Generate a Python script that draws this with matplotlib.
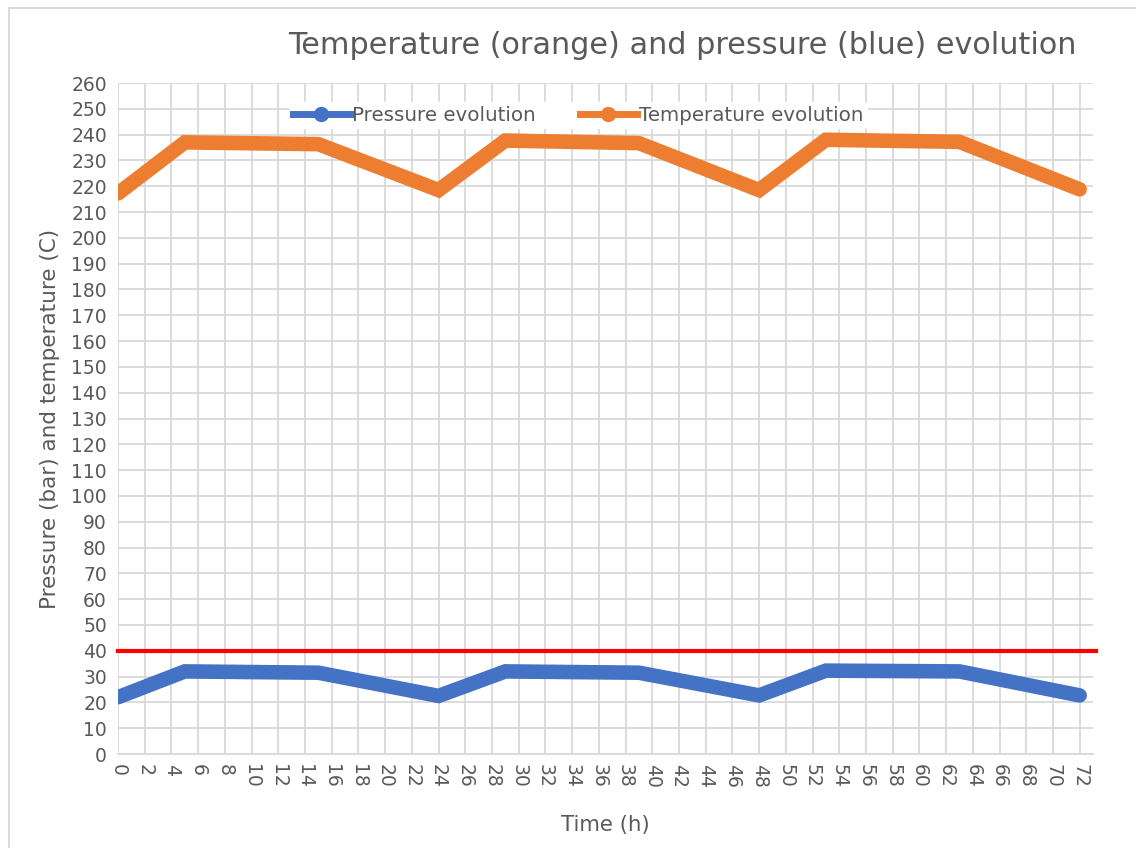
import matplotlib.pyplot as plt
from matplotlib.lines import Line2D

# data
hours = [0, 5, 15, 24, 29, 39, 48, 53, 63, 72]
pressure = [22, 32, 31.5, 22.5, 32, 31.5, 22.7, 32.3, 32, 22.7]
temperature = [217.2, 237, 236.3, 218.5, 237.7, 236.7, 218.5, 238, 237.2, 218.8]
limit = 40

x_ticks = list(range(0, 73, 2))
y_ticks = list(range(0, 261, 10))

BLUE = "#4472C4"
ORANGE = "#ED7D31"
GRID = "#D9D9D9"
TEXT = "#595959"

plt.rcParams["font.family"] = ["DejaVu Sans"]

fig = plt.figure(figsize=(11.36, 8.48), dpi=100)
ax = fig.add_axes([118 / 1136, 1 - 754 / 848, (1093 - 118) / 1136, (754 - 83) / 848])

# chart-area border, only its top and left edges are inside the screenshot
bx, by = 8.5 / 1136, 1 - 7.5 / 848
fig.add_artist(Line2D([bx, 1], [by, by], color=GRID, linewidth=1.3, transform=fig.transFigure))
fig.add_artist(Line2D([bx, bx], [0, by], color=GRID, linewidth=1.3, transform=fig.transFigure))

ax.plot(hours, pressure, color=BLUE, linewidth=10.5, solid_capstyle="round",
        solid_joinstyle="miter", zorder=3)
ax.plot(hours, temperature, color=ORANGE, linewidth=10.5, solid_capstyle="round",
        solid_joinstyle="miter", zorder=3)
ax.plot([0, 73.2], [limit, limit], color="red", linewidth=3, zorder=4, clip_on=False)

ax.set_xlim(0, 73)
ax.set_ylim(0, 260)
ax.set_xticks(x_ticks)
ax.set_yticks(y_ticks)
ax.grid(True, color=GRID, linewidth=1.3)
ax.set_axisbelow(True)
for s in ["top", "right", "left"]:
    ax.spines[s].set_visible(False)
ax.spines["bottom"].set_color(GRID)
ax.spines["bottom"].set_linewidth(1.3)
ax.tick_params(length=0, colors=TEXT, labelsize=13.5)
ax.tick_params(axis="x", pad=7)
ax.tick_params(axis="y", pad=8)
for lbl in ax.get_xticklabels():
    lbl.set_rotation(-90)
    lbl.set_va("top")
    lbl.set_ha("center")

ax.set_xlabel("Time (h)", color=TEXT, fontsize=15.3, labelpad=20)
ax.set_ylabel("Pressure (bar) and temperature (C)", color=TEXT, fontsize=15.5, labelpad=8)
fig.text(682 / 1136, 1 - 46 / 848, "Temperature (orange) and pressure (blue) evolution",
         ha="center", va="center", fontsize=21.8, color=TEXT)

handles = [
    Line2D([], [], color=BLUE, linewidth=5, marker="o", markersize=10),
    Line2D([], [], color=ORANGE, linewidth=5, marker="o", markersize=10),
]
leg = ax.legend(handles, ["Pressure evolution", "Temperature evolution"], ncol=2,
                loc="center", bbox_to_anchor=(0.472, 0.952), fontsize=14.3,
                handlelength=2.9, handletextpad=0.1, columnspacing=2.2,
                frameon=True, facecolor="white", edgecolor="none", framealpha=1,
                borderpad=0.2)
for t in leg.get_texts():
    t.set_color(TEXT)

fig.savefig("out.png", dpi=100)
